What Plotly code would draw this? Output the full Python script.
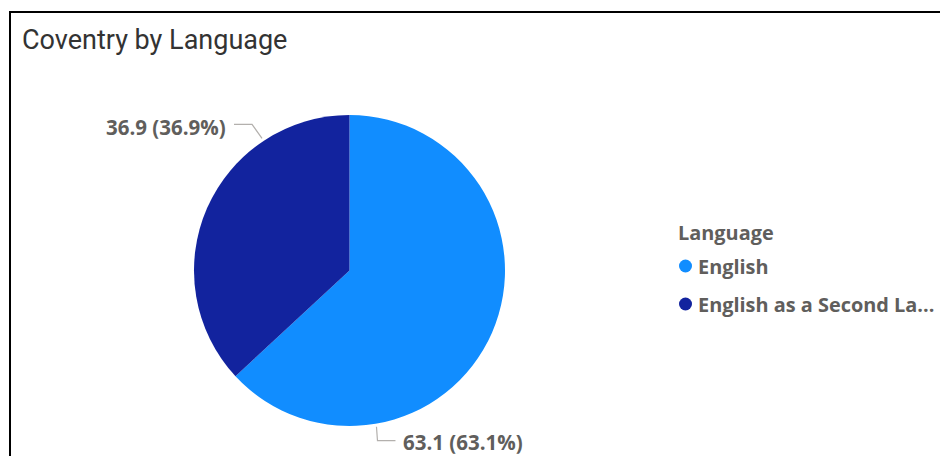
import plotly.graph_objects as go
import math

# ---- data ----
categories = ["English", "English as a Second Language"]
values = [63.1, 36.9]
colors = ["#118DFF", "#12239E"]
legend_title = "Language"
chart_title = "Coventry by Language"

# ---- canvas helpers ----
W, H = 940, 456
def px(x):
    return x / W
def py(y):
    return 1 - y / H

# pie geometry (pixels)
CX, CY, R = 349.5, 270.5, 155.5

fig = go.Figure()
fig.add_trace(go.Pie(
    labels=categories,
    values=values,
    marker=dict(colors=colors, line=dict(width=0)),
    sort=False,
    direction="clockwise",
    rotation=0,
    textinfo="none",
    hoverinfo="label+value+percent",
    showlegend=False,
    domain=dict(x=[px(CX - R), px(CX + R)], y=[py(CY + R), py(CY - R)]),
))

total = sum(values)
label_texts = [f"{v:g} ({v / total * 100:.1f}%)" for v in values]

LABEL_FONT = dict(family="Open Sans, Segoe UI, sans-serif", size=20.5, color="#605E5C", weight=700)
LEGEND_FONT = dict(family="Open Sans, Segoe UI, sans-serif", size=19.9, color="#605E5C", weight=700)
LINE_COLOR = "#B3B0AD"

annotations = []
shapes = []

# label placement (angle of leader touch point, clockwise from 12 o'clock, and side)
label_layout = {
    0: dict(angle=170.2, side="right"),
    1: dict(angle=326.5, side="left"),
}
for i, txt in enumerate(label_texts):
    lay = label_layout[i]
    a = math.radians(lay["angle"])
    x0 = CX + (R + 3) * math.sin(a)
    y0 = CY - (R + 3) * math.cos(a)
    if lay["side"] == "right":
        xe, ye = x0 + 1, y0 + 14
        xh = xe + 18
        path = f"M {px(x0)},{py(y0)} L {px(xe)},{py(ye)} L {px(xh)},{py(ye)}"
        annotations.append(dict(x=px(xh + 6), y=py(ye + 1), xref="paper", yref="paper",
                                text=txt, showarrow=False, xanchor="left", yanchor="middle",
                                font=LABEL_FONT))
    else:
        xe, ye = x0 - 10, y0 - 14
        xh = xe - 18
        path = f"M {px(x0)},{py(y0)} L {px(xe)},{py(ye)} L {px(xh)},{py(ye)}"
        annotations.append(dict(x=px(xh - 6), y=py(ye + 3), xref="paper", yref="paper",
                                text=txt, showarrow=False, xanchor="right", yanchor="middle",
                                font=LABEL_FONT))
    shapes.append(dict(type="path", path=path, xref="paper", yref="paper",
                       line=dict(color=LINE_COLOR, width=1.2)))

# title
annotations.append(dict(x=px(20), y=py(40), xref="paper", yref="paper", text=chart_title,
                        showarrow=False, xanchor="left", yanchor="middle",
                        font=dict(family="Roboto, sans-serif", size=27, color="#333333")))

# legend (custom)
LEG_X = 678
annotations.append(dict(x=px(LEG_X - 2), y=py(232), xref="paper", yref="paper", text=legend_title,
                        showarrow=False, xanchor="left", yanchor="middle", font=LEGEND_FONT))
leg_y = [266, 304]
for i, cat in enumerate(categories):
    disp = cat if len(cat) <= 25 else cat[:22] + "..."
    cy = leg_y[i]
    shapes.append(dict(type="circle", xref="paper", yref="paper",
                       x0=px(LEG_X + 1), x1=px(LEG_X + 14), y0=py(cy + 6.5), y1=py(cy - 6.5),
                       fillcolor=colors[i], line=dict(width=0)))
    annotations.append(dict(x=px(LEG_X + 18), y=py(cy), xref="paper", yref="paper", text=disp,
                            showarrow=False, xanchor="left", yanchor="middle", font=LEGEND_FONT))

# card border
shapes.append(dict(type="rect", xref="paper", yref="paper",
                   x0=px(10), x1=px(W + 20), y0=py(H + 20), y1=py(12),
                   line=dict(color="#000000", width=2), fillcolor="rgba(0,0,0,0)"))

fig.update_layout(
    width=W, height=H,
    margin=dict(l=0, r=0, t=0, b=0),
    paper_bgcolor="white",
    plot_bgcolor="white",
    annotations=annotations,
    shapes=shapes,
    showlegend=False,
)

fig.write_html("out.html", config={"displayModeBar": False},
               post_script="document.body.style.margin='0';")
